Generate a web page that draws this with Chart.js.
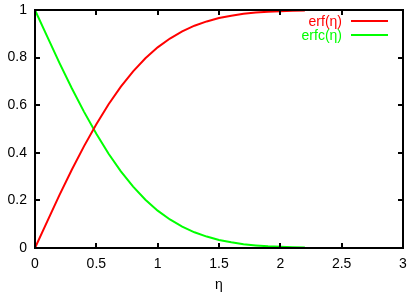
<!DOCTYPE html>
<html>
<head>
<meta charset="utf-8">
<script src="https://cdn.jsdelivr.net/npm/chart.js@4.4.1/dist/chart.umd.min.js"></script>
<style>
  html, body { margin: 0; padding: 0; background: #fff; }
  #wrap { width: 411px; height: 299px; }
</style>
</head>
<body>
<div id="wrap"><canvas id="myChart" width="411" height="299"></canvas></div>
<script>
// values
const eta = [0, 0.1, 0.2, 0.3, 0.4, 0.5, 0.6, 0.7, 0.8, 0.9, 1.0, 1.1, 1.2, 1.3, 1.4, 1.5, 1.6, 1.7, 1.8, 1.9, 2.0, 2.1, 2.2];
const erfVals = [0, 0.112, 0.223, 0.329, 0.428, 0.52, 0.604, 0.678, 0.742, 0.797, 0.843, 0.88, 0.91, 0.934, 0.952, 0.966, 0.976, 0.984, 0.989, 0.993, 0.995, 0.997, 0.998];
const erfcVals = [1, 0.888, 0.777, 0.671, 0.572, 0.48, 0.396, 0.322, 0.258, 0.203, 0.157, 0.12, 0.09, 0.066, 0.048, 0.034, 0.024, 0.016, 0.011, 0.007, 0.005, 0.003, 0.002];
const seriesNames = ['erf(η)', 'erfc(η)'];
const xTicks = [0, 0.5, 1, 1.5, 2, 2.5, 3];
const yTicks = [0, 0.2, 0.4, 0.6, 0.8, 1];
const xTitle = 'η';

const FONT = 'Liberation Sans, Arial, sans-serif';
const FS = 14;

const pts = (ys) => eta.map((x, i) => ({ x: x, y: ys[i] }));

// gnuplot style frame, inward ticks on all four sides, and the key
const framePlugin = {
  id: 'frame',
  afterDraw(chart) {
    const ctx = chart.ctx;
    const a = chart.chartArea;
    const xs = chart.scales.x, ys = chart.scales.y;
    ctx.save();
    ctx.strokeStyle = '#000';
    ctx.lineWidth = 2;
    ctx.strokeRect(a.left, a.top, a.right - a.left, a.bottom - a.top);
    ctx.beginPath();
    xs.ticks.forEach((t, i) => {
      const px = Math.round(xs.getPixelForTick(i));
      ctx.moveTo(px, a.bottom); ctx.lineTo(px, a.bottom - 5);
      ctx.moveTo(px, a.top); ctx.lineTo(px, a.top + 5);
    });
    ys.ticks.forEach((t, i) => {
      const py = Math.round(ys.getPixelForTick(i));
      ctx.moveTo(a.left, py); ctx.lineTo(a.left + 5, py);
      ctx.moveTo(a.right, py); ctx.lineTo(a.right - 5, py);
    });
    ctx.stroke();

    // key
    ctx.font = FS + 'px ' + FONT;
    ctx.textAlign = 'right';
    ctx.textBaseline = 'middle';
    chart.data.datasets.forEach((ds, i) => {
      const y = 21 + i * 14;
      ctx.fillStyle = ds.borderColor;
      ctx.fillText(ds.label, 342, y + 1);
      ctx.strokeStyle = ds.borderColor;
      ctx.lineWidth = 2;
      ctx.beginPath();
      ctx.moveTo(351, y); ctx.lineTo(388, y);
      ctx.stroke();
    });
    ctx.restore();
  }
};

const noPad = (s) => { s.paddingTop = 0; s.paddingBottom = 0; s.paddingLeft = 0; s.paddingRight = 0; };

new Chart(document.getElementById('myChart'), {
  type: 'line',
  data: {
    datasets: [
      { label: seriesNames[0], data: pts(erfVals), borderColor: '#ff0000', borderWidth: 2, pointRadius: 0, tension: 0, fill: false },
      { label: seriesNames[1], data: pts(erfcVals), borderColor: '#00ff00', borderWidth: 2, pointRadius: 0, tension: 0, fill: false }
    ]
  },
  options: {
    responsive: false,
    animation: false,
    layout: { padding: { top: 10, right: 8, left: 0, bottom: 0 } },
    plugins: { legend: { display: false }, tooltip: { enabled: false } },
    scales: {
      x: {
        type: 'linear',
        min: 0, max: 3,
        afterBuildTicks: (s) => { s.ticks = xTicks.map(v => ({ value: v })); },
        afterFit: (s) => { s.height = 51; noPad(s); },
        grid: { display: false, drawTicks: false },
        border: { display: false },
        ticks: { color: '#000', font: { family: FONT, size: FS }, padding: 8, maxRotation: 0, callback: (v) => String(v) },
        title: { display: true, text: xTitle, color: '#000', font: { family: FONT, size: FS }, padding: { top: 3, bottom: 5 } }
      },
      y: {
        type: 'linear',
        min: 0, max: 1,
        afterBuildTicks: (s) => { s.ticks = yTicks.map(v => ({ value: v })); },
        afterFit: (s) => { s.width = 35; noPad(s); },
        grid: { display: false, drawTicks: false },
        border: { display: false },
        ticks: { color: '#000', font: { family: FONT, size: FS }, padding: 8, callback: (v) => String(v) }
      }
    }
  },
  plugins: [framePlugin]
});
</script>
</body>
</html>
